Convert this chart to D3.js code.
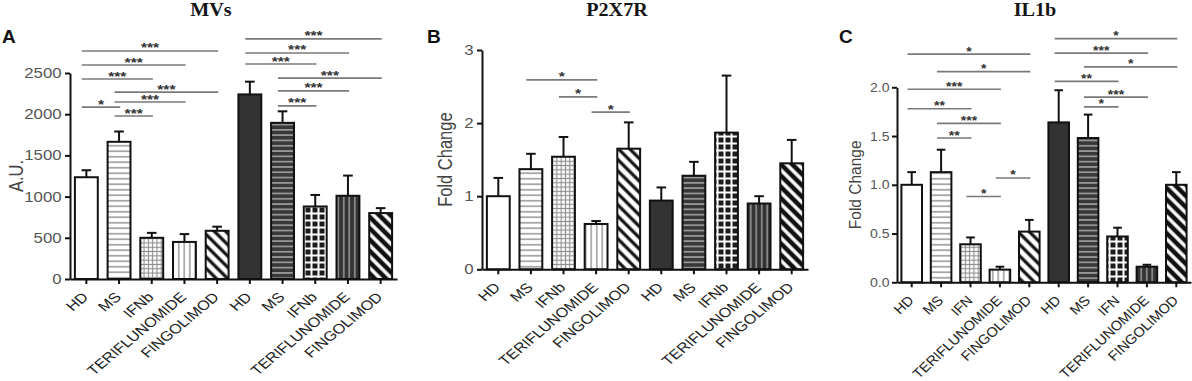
<!DOCTYPE html>
<html>
<head>
<meta charset="utf-8">
<script src="https://cdn.jsdelivr.net/npm/d3@7"></script>
<style>
  body { margin: 0; background: #fff; }
  svg { display: block; font-family: "Liberation Sans", Arial, sans-serif; }
</style>
</head>
<body>
<div id="chart"></div>
<script>
// groups, each shown twice (light bars, then dark bars)
var groupsAB = ["HD", "MS", "IFNb", "TERIFLUNOMIDE", "FINGOLIMOD", "HD", "MS", "IFNb", "TERIFLUNOMIDE", "FINGOLIMOD"];
var groupsC = ["HD", "MS", "IFN", "TERIFLUNOMIDE", "FINGOLIMOD", "HD", "MS", "IFN", "TERIFLUNOMIDE", "FINGOLIMOD"];

// panel A - MVs (A.U.)
var mvsMean = [1235, 1665, 500, 450, 585, 2240, 1895, 880, 1010, 800];
var mvsSem = [85, 125, 60, 95, 50, 155, 140, 140, 245, 60];
var mvsTicks = [0, 500, 1000, 1500, 2000, 2500];
// [from, to, level, stars]
var mvsSig = [
  [0, 4, 2767, "***"], [0, 3, 2597, "***"], [0, 2, 2427, "***"], [1, 4, 2269, "***"],
  [1, 3, 2148, "***"], [0, 1, 2087, "*"], [1, 2, 1978, "***"],
  [5, 9, 2913, "***"], [5, 8, 2743, "***"], [5, 7, 2609, "***"], [6, 9, 2439, "***"],
  [6, 8, 2282, "***"], [6, 7, 2100, "***"]
];

// panel B - P2X7R (fold change)
var p2x7Mean = [1.0, 1.37, 1.54, 0.62, 1.65, 0.94, 1.28, 1.87, 0.90, 1.45];
var p2x7Sem = [0.25, 0.21, 0.27, 0.04, 0.36, 0.18, 0.19, 0.78, 0.10, 0.32];
var p2x7Ticks = [0, 1, 2, 3];
var p2x7Sig = [[1, 3, 2.59, "*"], [2, 3, 2.36, "*"], [3, 4, 2.15, "*"]];

// panel C - IL1b (fold change)
var il1bMean = [1.0, 1.13, 0.39, 0.13, 0.52, 1.64, 1.48, 0.47, 0.16, 1.0];
var il1bSem = [0.13, 0.23, 0.07, 0.03, 0.12, 0.33, 0.24, 0.09, 0.02, 0.13];
var il1bTicks = [0, 0.5, 1, 1.5, 2];
var il1bSig = [
  [0, 4, 2.34, "*"], [1, 4, 2.16, "*"], [0, 3, 1.98, "***"], [0, 2, 1.78, "**"],
  [1, 3, 1.63, "***"], [1, 2, 1.48, "**"], [3, 4, 1.07, "*"], [2, 3, 0.88, "*"],
  [5, 9, 2.50, "*"], [5, 8, 2.35, "***"], [6, 9, 2.21, "*"], [5, 7, 2.06, "**"],
  [6, 8, 1.90, "***"], [6, 7, 1.80, "*"]
];

// bar fills, same order in every panel
var barFills = ["#fff", "url(#hs)", "url(#grid)", "url(#vs)", "url(#dg)",
                "#333", "url(#hsd)", "url(#gd)", "url(#vsd)", "url(#dgd)"];

var panels = [
  {letter: "A", title: "MVs", titleX: 211, letterX: 2, yLabel: "A.U.", yLabelX: 23,
   left: 70, right: 397, top: 73, bottom: 279, yMax: 2500, ticks: mvsTicks, fmt: d3.format("d"),
   names: groupsAB, mean: mvsMean, sem: mvsSem, sig: mvsSig, sx: 1.2, tickFont: 14},
  {letter: "B", title: "P2X7R", titleX: 617, letterX: 427, yLabel: "Fold Change", yLabelX: 452,
   left: 482, right: 808, top: 50, bottom: 269.3, yMax: 3, ticks: p2x7Ticks, fmt: d3.format("d"),
   names: groupsAB, mean: p2x7Mean, sem: p2x7Sem, sig: p2x7Sig, sx: 1.2, tickFont: 14},
  {letter: "C", title: "IL1b", titleX: 1035, letterX: 839, yLabel: "Fold Change", yLabelX: 861,
   left: 897, right: 1191, top: 87.3, bottom: 282.3, yMax: 2, ticks: il1bTicks, fmt: d3.format(".1f"),
   names: groupsC, mean: il1bMean, sem: il1bSem, sig: il1bSig, sx: 1.08, tickFont: 13}
];

var width = 1192, height = 381;

var svg = d3.select("#chart").append("svg")
    .attr("width", width)
    .attr("height", height);

svg.append("rect").attr("width", width).attr("height", height).attr("fill", "#fff");

// hatch patterns
var defs = svg.append("defs");

function pattern(id, size, bg, rotate) {
  var p = defs.append("pattern")
      .attr("id", id)
      .attr("patternUnits", "userSpaceOnUse")
      .attr("width", size)
      .attr("height", size);
  if (rotate) p.attr("patternTransform", "rotate(" + rotate + ")");
  p.append("rect").attr("width", size).attr("height", size).attr("fill", bg);
  return p;
}
function hline(p, size, color, w) {
  p.append("line").attr("x1", 0).attr("x2", size).attr("y1", size / 2).attr("y2", size / 2)
    .attr("stroke", color).attr("stroke-width", w);
}
function vline(p, size, color, w) {
  p.append("line").attr("y1", 0).attr("y2", size).attr("x1", size / 2).attr("x2", size / 2)
    .attr("stroke", color).attr("stroke-width", w);
}

var p;
p = pattern("hs", 5.5, "#fff"); hline(p, 5.5, "#9a9a9a", 1.6);
p = pattern("grid", 4.3, "#fff"); hline(p, 4.3, "#8c8c8c", 1.1); vline(p, 4.3, "#8c8c8c", 1.1);
p = pattern("vs", 5.5, "#fff"); vline(p, 5.5, "#a0a0a0", 1.6);
p = pattern("dg", 8, "#fff", -45); vline(p, 8, "#111", 3.2);
p = pattern("hsd", 5.3, "#383838"); hline(p, 5.3, "#b0b0b0", 1.4);
p = pattern("gd", 7, "#1c1c1c"); hline(p, 7, "#fff", 2); vline(p, 7, "#fff", 2);
p = pattern("vsd", 5.5, "#333"); vline(p, 5.5, "#9a9a9a", 1.5);
p = pattern("dgd", 8, "#fff", -45); vline(p, 8, "#111", 4.6);

panels.forEach(drawPanel);

function drawPanel(cfg) {
  var g = svg.append("g");

  var y = d3.scaleLinear()
      .domain([0, cfg.yMax])
      .range([cfg.bottom, cfg.top]);

  var x = d3.scaleBand()
      .domain(d3.range(cfg.names.length))
      .range([cfg.left, cfg.right])
      .paddingInner(0.3)
      .paddingOuter(0.15);

  var bw = x.bandwidth();

  // bars
  g.selectAll(".bar")
      .data(cfg.mean)
    .enter().append("rect")
      .attr("class", "bar")
      .attr("x", function(d, i) { return x(i); })
      .attr("y", function(d) { return y(d); })
      .attr("width", bw)
      .attr("height", function(d) { return y(0) - y(d); })
      .attr("fill", function(d, i) { return barFills[i]; })
      .attr("stroke", "#111")
      .attr("stroke-width", 2);

  // error bars (upper half only)
  var err = g.selectAll(".err")
      .data(cfg.mean)
    .enter().append("g")
      .attr("class", "err")
      .attr("stroke", "#111")
      .attr("stroke-width", 2);
  err.append("line")
      .attr("x1", function(d, i) { return x(i) + bw / 2; })
      .attr("x2", function(d, i) { return x(i) + bw / 2; })
      .attr("y1", function(d) { return y(d); })
      .attr("y2", function(d, i) { return y(d + cfg.sem[i]); });
  err.append("line")
      .attr("x1", function(d, i) { return x(i) + bw * 0.29; })
      .attr("x2", function(d, i) { return x(i) + bw * 0.71; })
      .attr("y1", function(d, i) { return y(d + cfg.sem[i]); })
      .attr("y2", function(d, i) { return y(d + cfg.sem[i]); });

  // x axis
  var xAxis = g.append("g")
      .attr("transform", "translate(0," + cfg.bottom + ")")
      .call(d3.axisBottom(x).tickSize(5).tickSizeOuter(0).tickFormat(""));
  xAxis.selectAll("path, line").attr("stroke", "#111").attr("stroke-width", 2);

  // y axis
  var yAxis = g.append("g")
      .attr("transform", "translate(" + cfg.left + ",0)")
      .call(d3.axisLeft(y).tickValues(cfg.ticks).tickFormat(cfg.fmt)
            .tickSize(5).tickSizeOuter(0).tickPadding(2));
  yAxis.selectAll("path, line").attr("stroke", "#111").attr("stroke-width", 2);
  yAxis.selectAll("text")
      .attr("fill", "#555")
      .attr("font-size", cfg.tickFont)
      .attr("font-family", "'Liberation Sans', Arial, sans-serif")
      .attr("transform", "scale(" + cfg.sx + ",1)");

  // category labels, rotated
  g.selectAll(".cat")
      .data(cfg.names)
    .enter().append("text")
      .attr("class", "cat")
      .attr("text-anchor", "end")
      .attr("font-size", 13.5)
      .attr("fill", "#222")
      .attr("transform", function(d, i) {
        return "translate(" + (x(i) + bw / 2 + 3) + "," + (cfg.bottom + 19) + ") scale(" + cfg.sx + ",1) rotate(-45)";
      })
      .text(function(d) { return d; });

  // significance brackets
  var sig = g.selectAll(".sig")
      .data(cfg.sig)
    .enter().append("g")
      .attr("class", "sig");
  sig.append("line")
      .attr("x1", function(d) { return x(d[0]) + bw * 0.3; })
      .attr("x2", function(d) { return x(d[1]) + bw * 0.55; })
      .attr("y1", function(d) { return y(d[2]); })
      .attr("y2", function(d) { return y(d[2]); })
      .attr("stroke", "#7a7a7a")
      .attr("stroke-width", 1.7);
  sig.append("text")
      .attr("text-anchor", "middle")
      .attr("font-size", 13)
      .attr("font-weight", "bold")
      .attr("fill", "#333")
      .attr("transform", function(d) {
        var mid = (x(d[0]) + bw * 0.3 + x(d[1]) + bw * 0.55) / 2;
        return "translate(" + mid + "," + (y(d[2]) + 1.5) + ") scale(" + cfg.sx + ",1)";
      })
      .text(function(d) { return d[3]; });

  // y label
  g.append("text")
      .attr("text-anchor", "middle")
      .attr("font-size", cfg.tickFont + 2.5)
      .attr("fill", "#444")
      .attr("transform", "translate(" + cfg.yLabelX + "," + ((cfg.top + cfg.bottom) / 2) + ") scale(" + cfg.sx + ",1) rotate(-90)")
      .text(cfg.yLabel);

  // panel title
  g.append("text")
      .attr("text-anchor", "middle")
      .attr("font-family", "'Liberation Serif', 'Times New Roman', serif")
      .attr("font-weight", "bold")
      .attr("font-size", 18)
      .attr("fill", "#151515")
      .attr("transform", "translate(" + cfg.titleX + ",16) scale(1.12,1)")
      .text(cfg.title);

  // panel letter
  g.append("text")
      .attr("x", cfg.letterX)
      .attr("y", 43)
      .attr("font-weight", "bold")
      .attr("font-size", 19)
      .attr("fill", "#111")
      .text(cfg.letter);
}
</script>
</body>
</html>
